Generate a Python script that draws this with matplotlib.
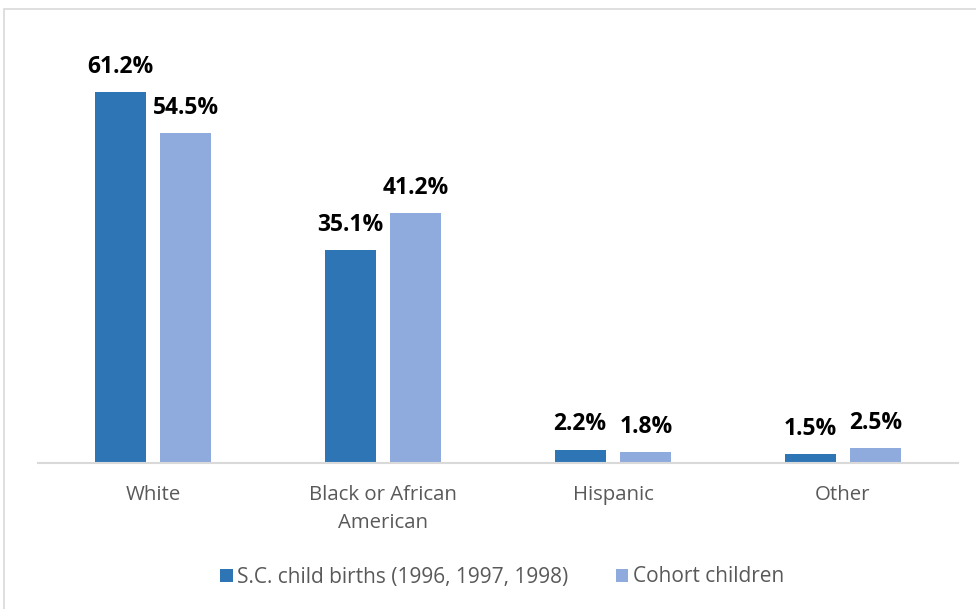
import numpy as np
from matplotlib import pyplot as plt
from matplotlib.patches import Rectangle

categories = ['White', 'Black or African\nAmerican', 'Hispanic', 'Other']
sc_births = [61.2, 35.1, 2.2, 1.5]
cohort = [54.5, 41.2, 1.8, 2.5]
series_names = ['S.C. child births (1996, 1997, 1998)', 'Cohort children']

blue = '#2E75B6'
light = '#8FAADC'
plt.rcParams['font.family'] = ['Open Sans', 'DejaVu Sans']

W, H = 976, 609
fig = plt.figure(figsize=(W / 100, H / 100), dpi=100)
# axes from x=38..958 px, y=50..463 px
ax = fig.add_axes([38 / W, 1 - 463 / H, 920 / W, 413 / H])

x = np.arange(len(categories))
bw = 0.222
off = 0.143
b1 = ax.bar(x - off, sc_births, bw, color=blue, label=series_names[0])
b2 = ax.bar(x + off, cohort, bw, color=light, label=series_names[1])

for bars, vals in ((b1, sc_births), (b2, cohort)):
    for b, v in zip(bars, vals):
        ax.annotate(f'{v:.1f}%', (b.get_x() + b.get_width() / 2, v),
                    xytext=(0, 9.5), textcoords='offset points',
                    ha='center', va='bottom', fontsize=16.5, fontweight='bold',
                    color='black')

ax.set_xlim(-0.5, len(categories) - 0.5)
ax.set_ylim(0, 413 / 6.06)
ax.set_yticks([])
ax.set_xticks(x)
ax.set_xticklabels(categories, fontsize=14.7, color='#595959', linespacing=1.55)
ax.tick_params(axis='x', length=0, pad=16)
for s in ['top', 'right', 'left']:
    ax.spines[s].set_visible(False)
ax.spines['bottom'].set_color('#D9D9D9')
ax.spines['bottom'].set_linewidth(1.5)

fig.legend(handles=[b1, b2], loc='center', bbox_to_anchor=(502 / W, 1 - 577 / H),
           ncol=2, frameon=False, fontsize=15, labelcolor='#595959',
           handlelength=0.6, handleheight=0.6, handletextpad=0.2, columnspacing=2.3)

fig.patches.append(Rectangle((4 / W, -0.1), 1.2, 1 - 9 / H + 0.1,
                             transform=fig.transFigure, fill=False,
                             edgecolor='#D9D9D9', linewidth=1.2))

fig.savefig('out.png', dpi=100)
